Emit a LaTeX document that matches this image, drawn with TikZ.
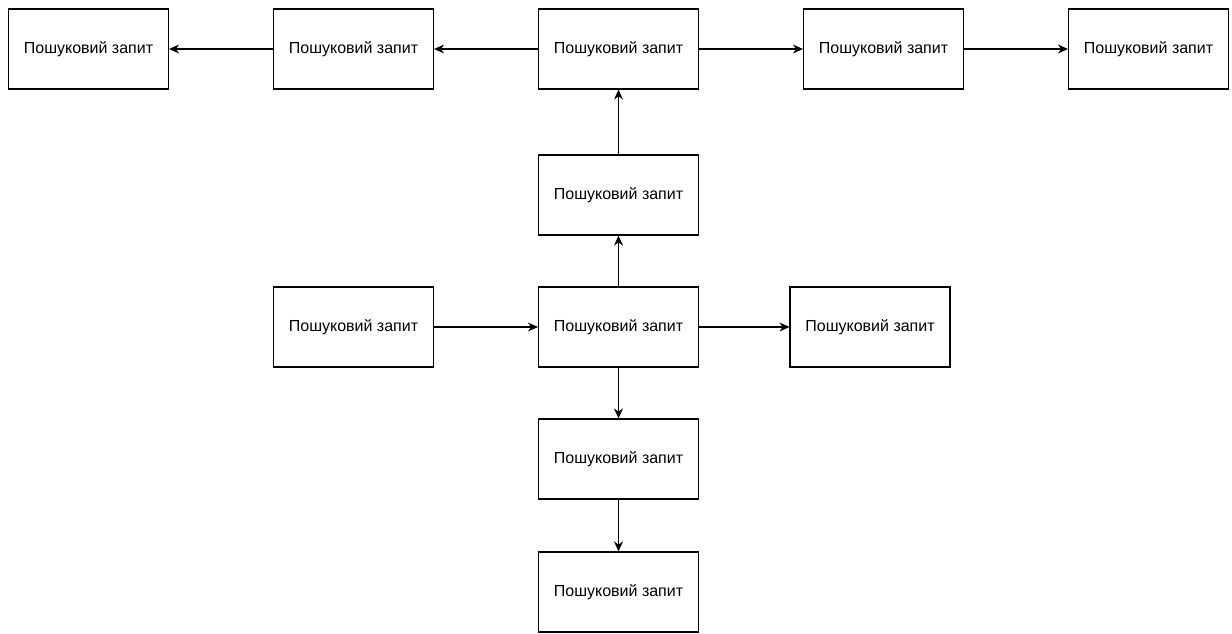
\documentclass[tikz,border=0pt]{standalone}
\usepackage{fontspec}
\setmainfont{Liberation Sans}
\usetikzlibrary{arrows.meta}

\tikzset{
    >={Stealth[length=10pt,width=9pt]},
    querybox/.style={draw, line width=1.2pt, minimum width=160pt, minimum height=80pt, inner sep=0pt, font=\fontsize{16}{19}\selectfont},
    link/.style={->, line width=1.2pt}
}

\begin{document}
\begin{tikzpicture}[x=1pt,y=-1pt]
        % Fix the canvas
        \useasboundingbox (0,0) rectangle (1232,633);

        % Top row of boxes
        \foreach \i/\x in {1/88.5,2/353.5,3/618.5,4/883.5,5/1148.5} {
            \node[querybox] (t\i) at (\x,49) {Пошуковий запит};
        }

        % Central column and middle row
        \node[querybox] (up) at (618.5,195) {Пошуковий запит};
        \node[querybox] (mid) at (618.5,327) {Пошуковий запит};
        \node[querybox] (left) at (353.5,327) {Пошуковий запит};
        \node[querybox] (right) at (870,327) {Пошуковий запит};
        \node[querybox] (down) at (618.5,459) {Пошуковий запит};
        \node[querybox] (bottom) at (618.5,592) {Пошуковий запит};

        % Draw the arrows
        \draw[link] (t3) -- (t2);
        \draw[link] (t2) -- (t1);
        \draw[link] (t3) -- (t4);
        \draw[link] (t4) -- (t5);
        \draw[link] (up) -- (t3);
        \draw[link] (mid) -- (up);
        \draw[link] (left) -- (mid);
        \draw[link] (mid) -- (right);
        \draw[link] (mid) -- (down);
        \draw[link] (down) -- (bottom);
    \end{tikzpicture}
\end{document}
